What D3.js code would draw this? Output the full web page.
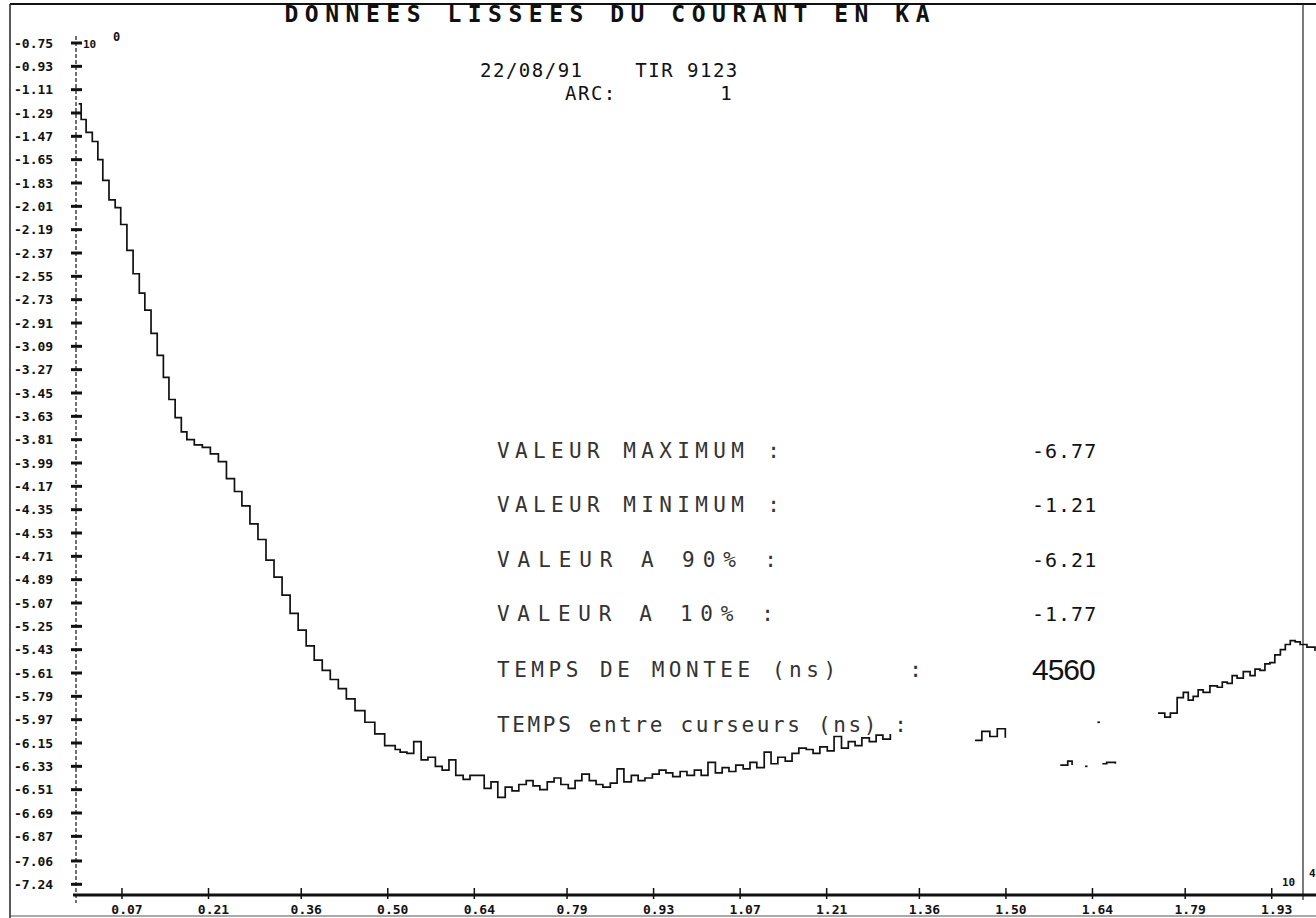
<!DOCTYPE html>
<html>
<head>
<meta charset="utf-8">
<script src="https://cdn.jsdelivr.net/npm/d3@7"></script>
<style>
  body { margin: 0; background: #fff; }
  svg { display: block; }
  text { font-family: "DejaVu Sans Mono", monospace; fill: #111; white-space: pre; }
</style>
</head>
<body>
<div id="chart"></div>
<script>
// tick labels as printed on the plot
const yTickLabels = ["-0.75", "-0.93", "-1.11", "-1.29", "-1.47", "-1.65", "-1.83", "-2.01",
  "-2.19", "-2.37", "-2.55", "-2.73", "-2.91", "-3.09", "-3.27", "-3.45", "-3.63", "-3.81",
  "-3.99", "-4.17", "-4.35", "-4.53", "-4.71", "-4.89", "-5.07", "-5.25", "-5.43", "-5.61",
  "-5.79", "-5.97", "-6.15", "-6.33", "-6.51", "-6.69", "-6.87", "-7.06", "-7.24"];
const xTickLabels = ["0.07", "0.21", "0.36", "0.50", "0.64", "0.79", "0.93", "1.07",
  "1.21", "1.36", "1.50", "1.64", "1.79", "1.93"];

// smoothed current (kA), piece by piece (the print fades out in places)
const descentTimes = [0.000, 0.004, 0.012, 0.022, 0.031, 0.039, 0.049, 0.059, 0.068, 0.078,
  0.088, 0.098, 0.107, 0.117, 0.127, 0.137, 0.146, 0.156, 0.166, 0.175, 0.187, 0.200, 0.213,
  0.226, 0.239, 0.252, 0.264, 0.277, 0.290, 0.303, 0.316, 0.329, 0.342, 0.355, 0.368, 0.381,
  0.394, 0.407, 0.420, 0.433, 0.447, 0.463, 0.479, 0.495, 0.512];
const descentCurrents = [-1.22, -1.34, -1.44, -1.51, -1.65, -1.81, -1.96, -2.02, -2.15, -2.35,
  -2.53, -2.68, -2.81, -2.99, -3.16, -3.33, -3.50, -3.64, -3.75, -3.81, -3.85, -3.87, -3.92,
  -3.98, -4.11, -4.21, -4.32, -4.46, -4.58, -4.74, -4.87, -5.01, -5.15, -5.28, -5.40, -5.51,
  -5.59, -5.66, -5.73, -5.81, -5.90, -5.99, -6.08, -6.17, -6.20];

const floorTimes = [0.520, 0.531, 0.542, 0.554, 0.565, 0.577, 0.588, 0.599, 0.610, 0.622,
  0.633, 0.645, 0.656, 0.667, 0.678, 0.690, 0.701, 0.712, 0.724, 0.735, 0.746, 0.758, 0.769,
  0.780, 0.792, 0.803, 0.814, 0.826, 0.837, 0.848, 0.860, 0.871, 0.882, 0.894, 0.905, 0.916,
  0.928, 0.939, 0.950, 0.961, 0.973, 0.984, 0.996, 1.007, 1.018, 1.030, 1.041, 1.052, 1.063,
  1.075, 1.086, 1.097, 1.109, 1.120, 1.131, 1.143, 1.154, 1.165, 1.177, 1.188, 1.199, 1.211,
  1.222, 1.234, 1.245, 1.256, 1.267, 1.279, 1.290, 1.301, 1.313];
const floorCurrents = [-6.22, -6.23, -6.14, -6.28, -6.26, -6.33, -6.36, -6.28, -6.40, -6.43,
  -6.40, -6.40, -6.50, -6.45, -6.57, -6.49, -6.52, -6.47, -6.44, -6.48, -6.51, -6.45, -6.42,
  -6.47, -6.50, -6.44, -6.39, -6.44, -6.47, -6.49, -6.46, -6.35, -6.45, -6.40, -6.44, -6.42,
  -6.39, -6.36, -6.38, -6.41, -6.37, -6.40, -6.36, -6.40, -6.30, -6.38, -6.34, -6.37, -6.32,
  -6.35, -6.30, -6.34, -6.22, -6.31, -6.26, -6.29, -6.23, -6.19, -6.20, -6.23, -6.18, -6.21,
  -6.10, -6.19, -6.14, -6.17, -6.11, -6.14, -6.09, -6.12, -6.08];

const fadedTimes = [[1.450, 1.461, 1.474, 1.486, 1.499], [1.588, 1.600, 1.607],
  [1.628, 1.632], [1.648, 1.652], [1.656, 1.663, 1.677]];
const fadedCurrents = [[-6.13, -6.06, -6.10, -6.04, -6.11], [-6.32, -6.29, -6.32],
  [-6.33, -6.33], [-5.99, -5.99], [-6.31, -6.30, -6.31]];

const tailTimes = [1.746, 1.757, 1.766, 1.777, 1.787, 1.795, 1.803, 1.811, 1.819, 1.830,
  1.842, 1.850, 1.858, 1.866, 1.874, 1.884, 1.895, 1.903, 1.911, 1.919, 1.927, 1.935, 1.944,
  1.952, 1.960, 1.968, 1.976, 1.987, 2.000];
const tailCurrents = [-5.92, -5.95, -5.92, -5.80, -5.76, -5.82, -5.79, -5.74, -5.76, -5.71,
  -5.72, -5.68, -5.69, -5.63, -5.65, -5.60, -5.63, -5.58, -5.59, -5.54, -5.53, -5.47, -5.43,
  -5.39, -5.36, -5.37, -5.39, -5.41, -5.44];

const resultLabels = ["VALEUR MAXIMUM :", "VALEUR MINIMUM :", "VALEUR A 90% :", "VALEUR A 10% :",
  "TEMPS DE MONTEE (ns)    :", "TEMPS entre curseurs (ns) :"];
const resultValues = ["-6.77", "-1.21", "-6.21", "-1.77", "4560", ""];

const width = 1316;
const height = 918;

const svg = d3
  .select("#chart")
  .append("svg")
  .attr("width", width)
  .attr("height", height);

const x = d3.scaleLinear().domain([0, 2]).range([78.7, 1315]);
const y = d3.scaleLinear().domain([-0.75, -7.23]).range([43, 883]);

// page frame of the printout
svg.append("line").attr("x1", 10).attr("x2", width).attr("y1", 4).attr("y2", 4)
  .attr("stroke", "#111").attr("stroke-width", 2);
svg.append("line").attr("x1", 10).attr("x2", 10).attr("y1", 4).attr("y2", height)
  .attr("stroke", "#222").attr("stroke-width", 1.5);
svg.append("line").attr("x1", 1303).attr("x2", 1303).attr("y1", 4).attr("y2", 900)
  .attr("stroke", "#222").attr("stroke-width", 1.2);
svg.append("line").attr("x1", 10).attr("x2", width).attr("y1", 916).attr("y2", 916)
  .attr("stroke", "#555").attr("stroke-width", 1);

// y axis
svg.append("line").attr("x1", 76).attr("x2", 76).attr("y1", 36).attr("y2", 903)
  .attr("stroke", "#111").attr("stroke-width", 1.2).attr("stroke-dasharray", "4,2");

const yTicks = svg.append("g").selectAll("g").data(yTickLabels).join("g")
  .attr("transform", (d) => `translate(0, ${y(+d)})`);
yTicks.append("line").attr("x1", 71).attr("x2", 82)
  .attr("stroke", "#111").attr("stroke-width", 3);
yTicks.append("text").attr("x", 14).attr("dy", "0.35em")
  .style("font-size", "13px").style("font-weight", "bold").text((d) => d);

// x axis
svg.append("line").attr("x1", 73).attr("x2", width).attr("y1", 895).attr("y2", 895)
  .attr("stroke", "#111").attr("stroke-width", 3);

const xTicks = svg.append("g").selectAll("g").data(xTickLabels).join("g")
  .attr("transform", (d) => `translate(${x(+d)}, 895)`);
xTicks.append("line").attr("y1", -7).attr("y2", 4)
  .attr("stroke", "#111").attr("stroke-width", 1.5);
xTicks.append("text").attr("x", 5).attr("y", 19).attr("text-anchor", "middle")
  .style("font-size", "13px").style("font-weight", "bold").text((d) => d);

// scale exponents
svg.append("text").attr("x", 83).attr("y", 48).style("font-size", "11px")
  .style("font-weight", "bold").text("10");
svg.append("text").attr("x", 113).attr("y", 41).style("font-size", "12px")
  .style("font-weight", "bold").text("0");
svg.append("text").attr("x", 1282).attr("y", 886).style("font-size", "11px")
  .style("font-weight", "bold").text("10");
svg.append("text").attr("x", 1309).attr("y", 877).style("font-size", "11px")
  .style("font-weight", "bold").text("4");

// titles
svg.append("text").attr("x", 607).attr("y", 22).attr("text-anchor", "middle")
  .attr("textLength", 645).attr("lengthAdjust", "spacing")
  .style("font-size", "23px").style("font-weight", "bold")
  .text("DONNEES LISSEES DU COURANT EN KA");
svg.append("text").attr("x", 480).attr("y", 77).style("font-size", "19px")
  .style("letter-spacing", "1.5px").text("22/08/91    TIR 9123");
svg.append("text").attr("x", 565).attr("y", 100).style("font-size", "19px")
  .style("letter-spacing", "1.5px").text("ARC:        1");

// the current trace
const line = d3.line()
  .x((d) => x(d[0]))
  .y((d) => y(d[1]))
  .curve(d3.curveStepAfter);

const pieces = [
  d3.zip(descentTimes.concat(floorTimes), descentCurrents.concat(floorCurrents)),
  ...fadedTimes.map((t, i) => d3.zip(t, fadedCurrents[i])),
  d3.zip(tailTimes, tailCurrents)
];

svg.append("g").selectAll("path").data(pieces).join("path")
  .attr("d", line)
  .attr("fill", "none")
  .attr("stroke", "#111")
  .attr("stroke-width", 1.7);

// results block
const rowY = [458, 512, 567, 621, 677, 732];
const rowWidth = [283, 283, 280, 277, 425, 410];
const rows = svg.append("g").selectAll("g").data(resultLabels).join("g")
  .attr("transform", (d, i) => `translate(0, ${rowY[i]})`);
rows.append("text").attr("x", 497)
  .attr("textLength", (d, i) => rowWidth[i]).attr("lengthAdjust", "spacing")
  .style("font-size", "21px").style("fill", "#333")
  .text((d) => d);
rows.append("text").attr("x", 1032)
  .style("font-size", (d, i) => (i === 4 ? "30px" : "20px"))
  .style("font-family", (d, i) => (i === 4 ? "'Liberation Sans', sans-serif" : null))
  .style("letter-spacing", (d, i) => (i === 4 ? "-1px" : "1px"))
  .attr("dy", (d, i) => (i === 4 ? 3 : 0))
  .text((d, i) => resultValues[i]);
</script>
</body>
</html>
